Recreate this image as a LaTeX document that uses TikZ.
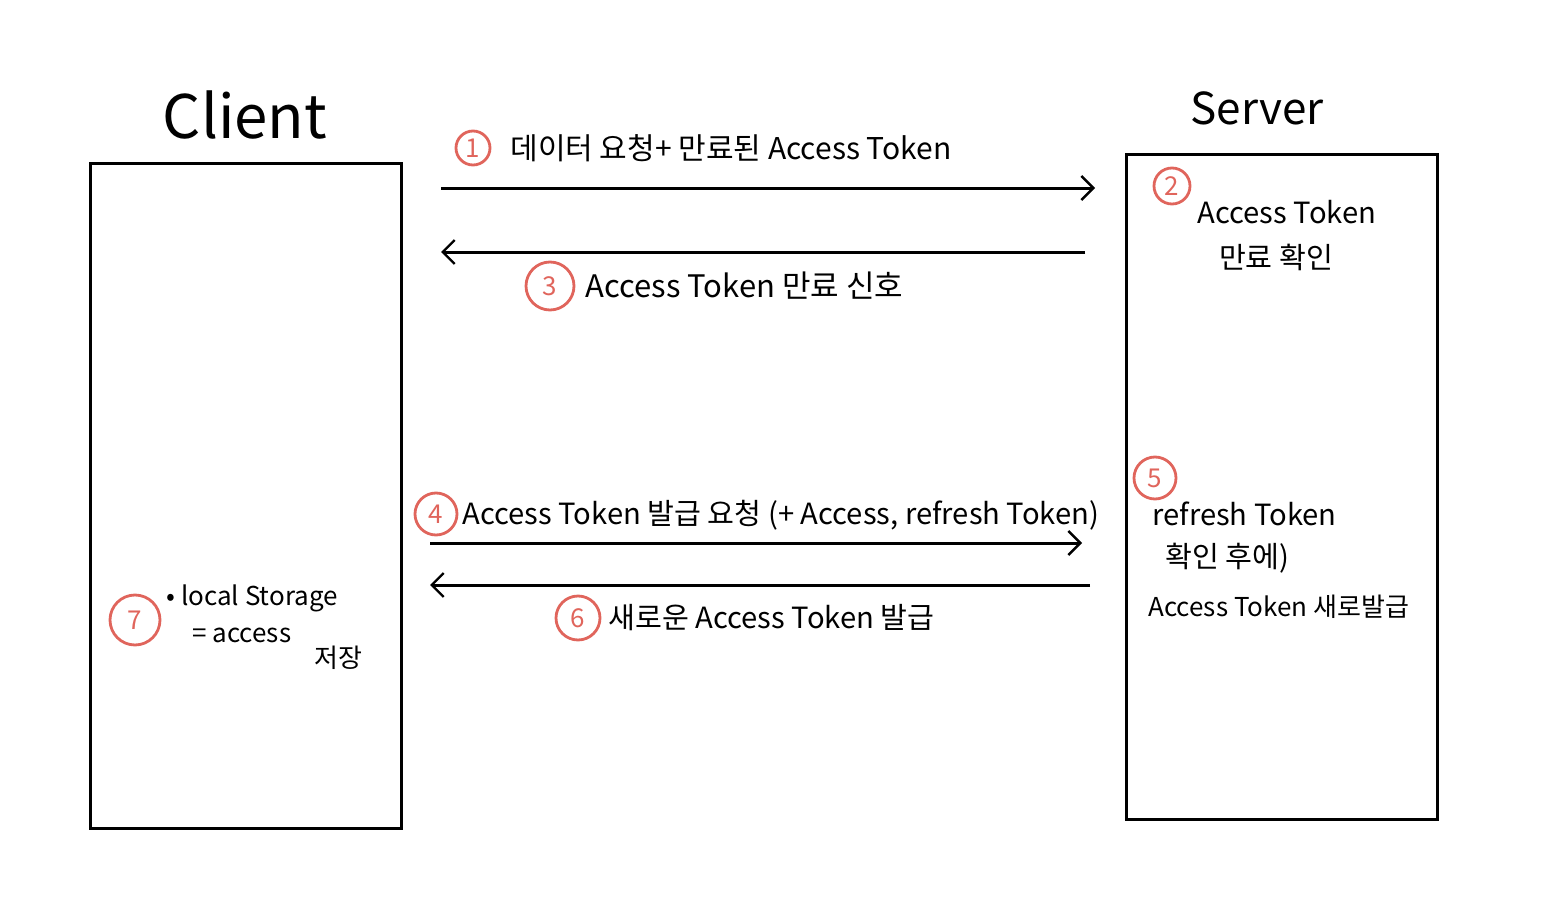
\documentclass[tikz,border=0pt]{standalone}
\usepackage{fontspec}
\newfontfamily\kr{Noto Sans CJK KR}
\usetikzlibrary{arrows.meta}
\definecolor{markred}{HTML}{E0655C}

\tikzset{
    box/.style={draw, line width=1.5pt, minimum width=155.5pt, minimum height=332.5pt},
    msg/.style={line width=1.5pt, -{Straight Barb[length=6pt, width=12pt, line width=1.2pt]}},
    lbl/.style={font=\kr\fontsize{14.6}{17}\selectfont, anchor=west, inner sep=0pt},
    num/.style={circle, draw=markred, text=markred, line width=1.4pt, inner sep=0pt,
                font=\kr\fontsize{13}{13}\selectfont},
}

\begin{document}
\begin{tikzpicture}[x=0.5pt, y=-0.5pt]
    \useasboundingbox (0,0) rectangle (1558,920);

    % Boxes
    \node[box] (client) at (245.5,495.5) {};
    \node[box] (server) at (1282,487) {};
    \node[font=\kr\fontsize{30}{30}\selectfont] (clientname) at (245,115) {Client};
    \node[font=\kr\fontsize{22}{22}\selectfont] (servername) at (1257,108) {Server};

    % Arrow end points
    \coordinate (a1) at (441,188);
    \coordinate (b1) at (1095,188);
    \coordinate (a3) at (1085,252);
    \coordinate (b3) at (441,252);
    \coordinate (a4) at (430,543);
    \coordinate (b4) at (1082,543);
    \coordinate (a6) at (1090,585);
    \coordinate (b6) at (430,585);

    \draw[msg] (a1) -- (b1);
    \draw[msg] (a3) -- (b3);
    \draw[msg] (a4) -- (b4);
    \draw[msg] (a6) -- (b6);

    % Step numbers (in red)
    \foreach \n/\x/\y/\s in {1/473/148/17, 2/1172/186/18, 3/550/286/24,
                             4/436/514/21, 5/1155/478/21, 6/578/618/22, 7/135/620/25} {
        \node[num, minimum size=\s pt] (n\n) at (\x,\y) {\n};
    }

    % Labels on the arrows
    \node[lbl, font=\kr\fontsize{15}{17}\selectfont] (t1) at (510,148) {데이터 요청+ 만료된 Access Token};
    \node[lbl, font=\kr\fontsize{15.5}{17}\selectfont] (t3) at (585,286) {Access Token 만료 신호};
    \node[lbl] (t4) at (462,515) {Access Token 발급 요청 (+ Access, refresh Token)};
    \node[lbl] (t6) at (608,618) {새로운 Access Token 발급};

    % Server side
    \node[lbl, anchor=center] (t2a) at (1287,212) {Access Token};
    \node[lbl, anchor=center] (t2b) at (1276,257) {만료 확인};
    \node[lbl] (t5a) at (1152,514) {refresh Token};
    \node[lbl] (t5b) at (1165,558) {확인 후에)};
    \node[lbl, font=\kr\fontsize{13}{15}\selectfont] (t5c) at (1148,607) {Access Token 새로발급};

    % Client side
    \node[lbl, font=\kr\fontsize{13}{15}\selectfont] (t7a) at (166,598) {• local Storage};
    \node[lbl, font=\kr\fontsize{13}{15}\selectfont] (t7b) at (192,635) {= access};
    \node[lbl, font=\kr\fontsize{13}{15}\selectfont] (t7c) at (314,658) {저장};
\end{tikzpicture}
\end{document}
